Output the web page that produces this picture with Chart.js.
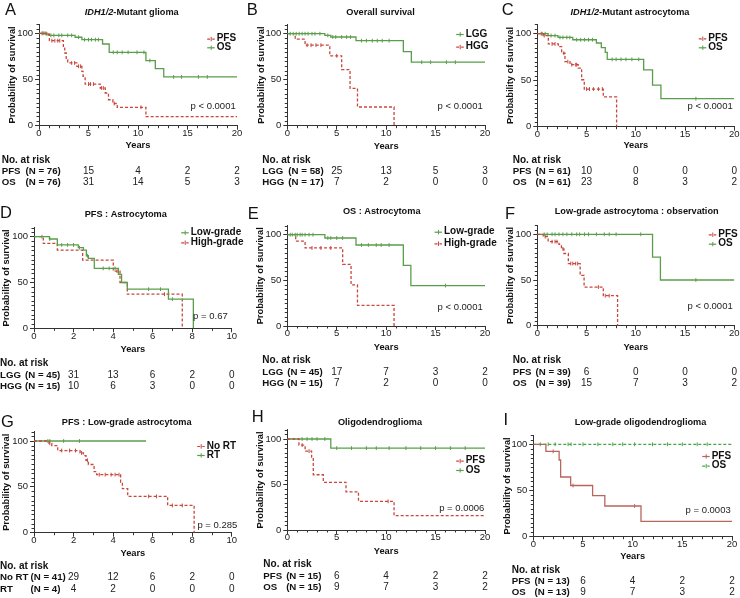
<!DOCTYPE html>
<html><head><meta charset="utf-8">
<script src="https://cdn.jsdelivr.net/npm/chart.js@4.4.1/dist/chart.umd.min.js"></script>
<style>
html,body{margin:0;padding:0;background:#fff;}
#wrap{position:relative;width:740px;height:598px;overflow:hidden;background:#fff;}
#wrap canvas{position:absolute;left:0;top:0;}
</style></head><body><div id="wrap"></div>
<script>
// ---------- tick values ----------
const yearTicks20 = [0, 5, 10, 15, 20];
const yearTicks10 = [0, 2, 4, 6, 8, 10];
const riskYears20 = [5, 10, 15, 20];
const riskYears10 = [2, 4, 6, 8, 10];
const survivalTicks = [0, 50, 100];

// ---------- A: IDH1/2-Mutant glioma ----------
const A_PFS_time = [0, 0.78, 1.05, 2.46, 2.6, 2.75, 2.9, 3.82, 4.33, 4.45, 4.66, 6.18, 6.69, 7.02, 7.46, 7.9, 10.8, 20];
const A_PFS_surv = [100, 99, 92, 84, 78.7, 71.4, 67.9, 64.3, 58.9, 53.5, 45.1, 40.8, 35.4, 28.1, 24, 19.9, 9.8, 9.8];
const A_PFS_censor = [0.4, 0.7, 1.3, 1.6, 1.9, 2.1, 3.3, 3.6, 4.0, 4.2, 5.0, 5.2, 5.5, 6.3, 6.5, 7.6, 10.3];
const A_OS_time = [0, 0.7, 1.0, 3.65, 4.33, 6.42, 7.09, 10.8, 11.75, 12.6, 20];
const A_OS_surv = [100, 99, 97.8, 95.7, 93.1, 88.4, 79.4, 70.5, 61.8, 52.8, 52.8];
const A_OS_censor = [0.3, 0.5, 0.8, 1.2, 1.5, 2.0, 2.3, 2.9, 3.3, 4.0, 4.6, 5.0, 5.3, 5.7, 6.0, 7.5, 7.9, 8.4, 9.0, 9.9, 10.6, 11.2, 13.6, 14.4, 16.1, 17.0];
const A_PFS_risk = [15, 4, 2, 2];
const A_OS_risk = [31, 14, 5, 3];

// ---------- B: Overall survival ----------
const B_LGG_time = [0, 3.8, 4.4, 6.95, 11.74, 12.55, 20];
const B_LGG_surv = [100, 98.2, 96.4, 92.4, 80.6, 69, 69];
const B_LGG_censor = [0.3, 0.6, 0.9, 1.2, 1.5, 1.8, 2.1, 2.5, 2.8, 3.3, 4.1, 4.6, 4.9, 5.5, 6.0, 6.4, 7.5, 8.0, 8.6, 9.1, 9.6, 10.3, 13.6, 14.5, 16.1, 17.0];
const B_HGG_time = [0, 0.8, 1.8, 4.3, 5.5, 6.35, 7.1, 10.8];
const B_HGG_surv = [100, 94, 87.5, 76, 61, 40.5, 20.3, 0];
const B_HGG_censor = [2.0, 2.4, 2.9, 3.4, 5.0];
const B_LGG_risk = [25, 13, 5, 3];
const B_HGG_risk = [7, 2, 0, 0];

// ---------- C: IDH1/2-Mutant astrocytoma ----------
const C_PFS_time = [0, 0.61, 1.12, 2.13, 2.47, 2.81, 3.32, 4.16, 4.5, 4.77, 6.7, 8.05];
const C_PFS_surv = [100, 98, 89, 86, 79, 70, 66.7, 63, 50.5, 40.5, 32, 0];
const C_PFS_censor = [0.4, 0.7, 1.5, 1.8, 2.7, 3.1, 3.5, 3.9, 4.0, 5.0, 5.3, 5.7, 6.2, 6.6];
const C_OS_time = [0, 1.1, 2.1, 3.6, 6.0, 6.5, 6.9, 7.1, 10.8, 11.7, 12.55, 20];
const C_OS_surv = [100, 98, 96, 93.5, 90, 85, 80, 72.4, 61, 44.8, 30.1, 30.1];
const C_OS_censor = [0.5, 0.8, 1.4, 1.8, 2.3, 2.6, 3.0, 3.3, 4.0, 4.4, 4.8, 5.2, 5.6, 7.6, 8.0, 8.5, 9.0, 9.6, 10.3, 16.1];
const C_PFS_risk = [10, 0, 0, 0];
const C_OS_risk = [23, 8, 3, 2];

// ---------- D: PFS : Astrocytoma ----------
const D_LGG_time = [0, 0.78, 1.18, 2.24, 2.5, 2.65, 2.75, 3.05, 4.27, 4.43, 4.72, 6.8, 8.06];
const D_LGG_surv = [100, 97.5, 91, 88, 85.4, 79.2, 76.3, 65.4, 58.8, 50, 42.7, 31.8, 0];
const D_LGG_censor = [0.4, 0.8, 1.4, 1.7, 2.0, 2.3, 2.7, 3.5, 3.8, 4.1, 5.8, 6.4, 7.0];
const D_HGG_time = [0, 0.47, 1.18, 2.46, 4.01, 4.35, 4.72, 7.5];
const D_HGG_surv = [100, 92.7, 85.4, 74.5, 62.4, 50, 37.2, 0];
const D_HGG_censor = [4.2, 6.6];
const D_LGG_risk = [31, 13, 6, 2, 0];
const D_HGG_risk = [10, 6, 3, 0, 0];

// ---------- E: OS : Astrocytoma ----------
const E_LGG_time = [0, 3.8, 6.95, 11.74, 12.5, 20];
const E_LGG_surv = [100, 96.4, 88.7, 66.5, 44.3, 44.3];
const E_LGG_censor = [0.3, 0.5, 0.8, 1.0, 1.3, 1.5, 1.8, 2.2, 2.6, 4.1, 4.4, 5.0, 5.6, 7.5, 8.2, 9.0, 9.5, 10.3, 16.0];
const E_HGG_time = [0, 0.85, 1.8, 5.6, 6.45, 7.1, 10.8];
const E_HGG_surv = [100, 93, 85.5, 67.5, 45, 22.5, 0];
const E_HGG_censor = [2.5, 3.4, 4.4];
const E_LGG_risk = [17, 7, 3, 2];
const E_HGG_risk = [7, 2, 0, 0];

// ---------- F: Low-grade astrocytoma : observation ----------
const F_PFS_time = [0, 0.6, 1.1, 2.2, 2.45, 2.7, 3.15, 4.35, 4.75, 6.7, 8.15];
const F_PFS_surv = [100, 97.4, 92, 89, 84, 79, 68, 55, 42.3, 32.8, 0];
const F_PFS_censor = [0.8, 1.5, 1.8, 2.0, 2.6, 3.4, 3.6, 3.9, 4.1, 6.2, 6.9, 7.3];
const F_OS_time = [0, 11.7, 12.5, 20];
const F_OS_surv = [100, 75, 50, 50];
const F_OS_censor = [0.7, 1.0, 1.5, 1.8, 2.2, 2.6, 3.0, 3.5, 4.0, 4.3, 4.8, 5.2, 6.0, 6.8, 7.3, 8.0, 10.5, 16.1];
const F_PFS_risk = [6, 0, 0, 0];
const F_OS_risk = [15, 7, 3, 2];

// ---------- G: PFS : Low-grade astrocytoma ----------
const G_NoRT_time = [0, 0.76, 0.9, 1.2, 2.33, 2.5, 2.63, 2.75, 3.04, 3.17, 4.38, 4.47, 4.74, 6.76, 8.1];
const G_NoRT_surv = [100, 97.5, 95, 89.6, 87, 84, 79, 74.4, 66.5, 63.3, 55, 48, 39.6, 29.7, 0];
const G_NoRT_censor = [0.8, 1.4, 1.8, 2.1, 2.4, 2.7, 3.3, 3.6, 3.9, 4.1, 4.3, 5.8, 6.2, 7.0, 7.5];
const G_RT_time = [0, 5.67];
const G_RT_surv = [100, 100];
const G_RT_censor = [0.7, 0.8, 1.5, 2.3];
const G_NoRT_risk = [29, 12, 6, 2, 0];
const G_RT_risk = [4, 2, 0, 0, 0];

// ---------- H: Oligodendroglioma ----------
const H_PFS_time = [0, 1.18, 1.8, 2.46, 2.63, 3.64, 5.94, 7.2, 10.8, 20];
const H_PFS_surv = [100, 93.3, 86.7, 80, 60.7, 52.4, 42, 31.5, 15.8, 15.8];
const H_PFS_censor = [1.5, 2.2, 10.2];
const H_OS_time = [0, 4.4, 20];
const H_OS_surv = [100, 90, 90];
const H_OS_censor = [1.5, 2.0, 2.5, 3.0, 3.8, 5.0, 6.5, 8.0, 9.0, 10.3, 12.0, 13.5, 15.0, 16.5, 18.0];
const H_PFS_risk = [6, 4, 2, 2];
const H_OS_risk = [9, 7, 3, 2];

// ---------- I: Low-grade oligodendroglioma ----------
const I_PFS_time = [0, 1.27, 2.6, 2.75, 3.76, 5.97, 7.2, 10.84, 20];
const I_PFS_surv = [100, 92.3, 83, 64.6, 55.4, 44.4, 33.2, 16.6, 16.6];
const I_PFS_censor = [2.0, 4.0, 10.2];
const I_OS_time = [0, 20];
const I_OS_surv = [100, 100];
const I_OS_censor = [0.7, 1.5, 2.2, 3.5, 3.8, 5.0, 6.5, 8.0, 9.0, 10.2, 12.0, 13.5, 15.0, 16.5, 17.5];
const I_PFS_risk = [6, 4, 2, 2];
const I_OS_risk = [9, 7, 3, 2];

// ---------- styling ----------
const FONT = "'Liberation Sans', Arial, Helvetica, sans-serif";
Chart.defaults.font.family = FONT;
Chart.defaults.color = '#222';
const RED = '#c8463c', GREEN = '#5a9e4b', ROSE = '#b8655c', GREEN2 = '#4aa34a';
const AXIS = '#333';

function stepAt(time, surv, t) {
  let v = surv[0];
  for (let i = 0; i < time.length; i++) if (time[i] <= t) v = surv[i];
  return v;
}
function S(time, surv, censor, color, dash) { return {time, surv, censor, color, dash}; }

const panels = [
  {letter:'A', lx:5, ly:15.1, title:[['IDH1/2', true], ['-Mutant glioma', false]], tx:131.7, ty:12,
   L:39, R:237, y100:33.3, y0:125.7, yTitleX:12.3, xTitleY:145.7, xmax:20, xticks:yearTicks20, minorX:1,
   series:[S(A_PFS_time, A_PFS_surv, A_PFS_censor, RED, true), S(A_OS_time, A_OS_surv, A_OS_censor, GREEN, false)],
   legend:[['PFS', 216.7, 38.7, 0], ['OS', 216.7, 47.3, 1]],
   p:['p < 0.0001', 235.7, 106],
   risk:{x1:1.7, gap:5, yh:160, years:riskYears20, rows:[['PFS', '(N = 76)', A_PFS_risk, 171], ['OS', '(N = 76)', A_OS_risk, 182.5]]}},
  {letter:'B', lx:246.7, ly:15.1, title:[['Overall survival', false]], tx:380.5, ty:12,
   L:287.3, R:485, y100:33.7, y0:125.7, yTitleX:261.7, xTitleY:146, xmax:20, xticks:yearTicks20, minorX:1,
   series:[S(B_LGG_time, B_LGG_surv, B_LGG_censor, GREEN, false), S(B_HGG_time, B_HGG_surv, B_HGG_censor, RED, true)],
   legend:[['LGG', 465.7, 34, 0], ['HGG', 465.7, 46.7, 1]],
   p:['p < 0.0001', 482.7, 106.7],
   risk:{x1:262.3, gap:4, yh:160, years:riskYears20, rows:[['LGG', '(N = 58)', B_LGG_risk, 171], ['HGG', '(N = 17)', B_HGG_risk, 182.5]]}},
  {letter:'C', lx:501.7, ly:15.1, title:[['IDH1/2', true], ['-Mutant astrocytoma', false]], tx:630, ty:12,
   L:537.3, R:734.3, y100:33.7, y0:126.7, yTitleX:510.7, xTitleY:145.7, xmax:20, xticks:yearTicks20, minorX:1,
   series:[S(C_PFS_time, C_PFS_surv, C_PFS_censor, RED, true), S(C_OS_time, C_OS_surv, C_OS_censor, GREEN, false)],
   legend:[['PFS', 708.3, 38.3, 0], ['OS', 708.3, 47.3, 1]],
   p:['p < 0.0001', 732.7, 106],
   risk:{x1:512.7, gap:4, yh:160, years:riskYears20, rows:[['PFS', '(N = 61)', C_PFS_risk, 171], ['OS', '(N = 61)', C_OS_risk, 182.5]]}},
  {letter:'D', lx:0, ly:217.5, title:[['PFS : Astrocytoma', false]], tx:125.8, ty:214,
   L:34, R:231.7, y100:236.7, y0:328.3, yTitleX:6, xTitleY:349.3, xmax:10, xticks:yearTicks10, minorX:1,
   series:[S(D_LGG_time, D_LGG_surv, D_LGG_censor, GREEN, false), S(D_HGG_time, D_HGG_surv, D_HGG_censor, RED, true)],
   legend:[['Low-grade', 190.7, 232.3, 0], ['High-grade', 190.7, 242.3, 1]],
   p:['p = 0.67', 227.7, 316.7],
   risk:{x1:0, gap:3, yh:363, years:riskYears10, rows:[['LGG', '(N = 45)', D_LGG_risk, 375], ['HGG', '(N = 15)', D_HGG_risk, 386]]}},
  {letter:'E', lx:247.7, ly:218.5, title:[['OS : Astrocytoma', false]], tx:381.7, ty:211.7,
   L:287.3, R:485, y100:234.7, y0:326, yTitleX:260.7, xTitleY:347.3, xmax:20, xticks:yearTicks20, minorX:1,
   series:[S(E_LGG_time, E_LGG_surv, E_LGG_censor, GREEN, false), S(E_HGG_time, E_HGG_surv, E_HGG_censor, RED, true)],
   legend:[['Low-grade', 444, 231.7, 0], ['High-grade', 444, 243.3, 1]],
   p:['p < 0.0001', 482.7, 307.3],
   risk:{x1:262.3, gap:3, yh:360, years:riskYears20, rows:[['LGG', '(N = 45)', E_LGG_risk, 372], ['HGG', '(N = 15)', E_HGG_risk, 383.5]]}},
  {letter:'F', lx:505, ly:218.5, title:[['Low-grade astrocytoma : observation', false]], tx:636.7, ty:211.7,
   L:537.3, R:734.3, y100:234.3, y0:325.7, yTitleX:510.7, xTitleY:347.3, xmax:20, xticks:yearTicks20, minorX:1,
   series:[S(F_PFS_time, F_PFS_surv, F_PFS_censor, RED, true), S(F_OS_time, F_OS_surv, F_OS_censor, GREEN, false)],
   legend:[['PFS', 718.3, 234.3, 0], ['OS', 718.3, 243.7, 1]],
   p:['p < 0.0001', 732.7, 306],
   risk:{x1:512.7, gap:4, yh:360, years:riskYears20, rows:[['PFS', '(N = 39)', F_PFS_risk, 372], ['OS', '(N = 39)', F_OS_risk, 383.5]]}},
  {letter:'G', lx:1, ly:426.8, title:[['PFS : Low-grade astrocytoma', false]], tx:126.7, ty:422,
   L:34, R:231.7, y100:441, y0:532.7, yTitleX:6, xTitleY:553.3, xmax:10, xticks:yearTicks10, minorX:1,
   series:[S(G_NoRT_time, G_NoRT_surv, G_NoRT_censor, RED, true), S(G_RT_time, G_RT_surv, G_RT_censor, GREEN, false)],
   legend:[['No RT', 206.7, 446, 0], ['RT', 206.7, 455, 1]],
   p:['p = 0.285', 237.3, 525],
   risk:{x1:0, gap:2, yh:566, years:riskYears10, rows:[['No RT', '(N = 41)', G_NoRT_risk, 577], ['RT', '(N = 4)', G_RT_risk, 589]]}},
  {letter:'H', lx:251.7, ly:421.8, title:[['Oligodendroglioma', false]], tx:380, ty:422,
   L:287.3, R:485, y100:439, y0:530, yTitleX:260.7, xTitleY:551.7, xmax:20, xticks:yearTicks20, minorX:1,
   series:[S(H_PFS_time, H_PFS_surv, H_PFS_censor, RED, true), S(H_OS_time, H_OS_surv, H_OS_censor, GREEN, false)],
   legend:[['PFS', 465.7, 460.7, 0], ['OS', 465.7, 470, 1]],
   p:['p = 0.0006', 484.3, 508.3],
   risk:{x1:263.3, gap:4, yh:564, years:riskYears20, rows:[['PFS', '(N = 15)', H_PFS_risk, 576], ['OS', '(N = 15)', H_OS_risk, 587]]}},
  {letter:'I', lx:503.5, ly:425.1, title:[['Low-grade oligodendroglioma', false]], tx:640.5, ty:422,
   L:533.3, R:732, y100:444.3, y0:536.7, yTitleX:507.7, xTitleY:556.7, xmax:20, xticks:yearTicks20, minorX:1,
   series:[S(I_PFS_time, I_PFS_surv, I_PFS_censor, ROSE, false), S(I_OS_time, I_OS_surv, I_OS_censor, GREEN2, true)],
   legend:[['PFS', 711.7, 456, 0], ['OS', 711.7, 465.7, 1]],
   p:['p = 0.0003', 730.7, 510.7],
   risk:{x1:511.7, gap:4, yh:570, years:riskYears20, rows:[['PFS', '(N = 13)', I_PFS_risk, 581], ['OS', '(N = 13)', I_OS_risk, 592]]}}
];

const wrap = document.getElementById('wrap');
const YT = 9.3, YTLH = YT * 1.2;
const RF = 'bold 9.7px ' + FONT;

function txt(ctx, s, x, y, font, align, color) {
  ctx.font = font; ctx.textAlign = align || 'left'; ctx.textBaseline = 'middle';
  ctx.fillStyle = color || '#111'; ctx.fillText(s, x, y);
}

function makePanel(p) {
  const canvas = document.createElement('canvas');
  canvas.width = 740; canvas.height = 598;
  canvas.style.width = '740px'; canvas.style.height = '598px';
  wrap.appendChild(canvas);
  const T = p.y100 - (p.y0 - p.y100) * 0.1;
  const B = p.y0;
  const axW = p.L - (p.yTitleX - YTLH / 2);
  const xH = p.xTitleY + YTLH / 2 - B;

  const datasets = [];
  p.series.forEach(s => {
    datasets.push({type: 'line', data: s.time.map((t, i) => ({x: t, y: s.surv[i]})), stepped: true,
      borderColor: s.color, borderWidth: 1.3, borderDash: s.dash ? [3, 2] : [], pointRadius: 0, fill: false, tension: 0, order: 2});
    datasets.push({type: 'scatter', data: s.censor.map(t => ({x: t, y: stepAt(s.time, s.surv, t)})),
      pointStyle: 'line', pointRotation: 90, pointRadius: 1.9, pointBorderColor: s.color, pointBorderWidth: 1,
      pointBackgroundColor: s.color, borderColor: s.color, order: 1});
  });

  const decor = {
    id: 'decor' + p.letter,
    afterDraw(chart) {
      const ctx = chart.ctx, ca = chart.chartArea, xs = chart.scales.x, ys = chart.scales.y;
      ctx.save();
      // minor ticks
      ctx.strokeStyle = AXIS; ctx.lineWidth = 1; ctx.setLineDash([]);
      ctx.beginPath();
      for (let i = 0; i <= p.xmax / p.minorX; i++) {
        const v = i * p.minorX;
        if (p.xticks.includes(v)) continue;
        const px = Math.round(xs.getPixelForValue(v)) + 0.5;
        ctx.moveTo(px, ca.bottom); ctx.lineTo(px, ca.bottom + 2.5);
      }
      for (let v = 5; v <= 110; v += 5) {
        if (survivalTicks.includes(v)) continue;
        const py = Math.round(ys.getPixelForValue(v)) + 0.5;
        ctx.moveTo(ca.left, py); ctx.lineTo(ca.left - 2.5, py);
      }
      ctx.stroke();
      // panel letter
      ctx.font = '16.5px ' + FONT; ctx.textAlign = 'left'; ctx.textBaseline = 'alphabetic'; ctx.fillStyle = '#111';
      ctx.fillText(p.letter, p.lx, p.ly);
      // title
      const fN = 'bold 9.2px ' + FONT, fI = 'italic bold 9.2px ' + FONT;
      let total = 0;
      p.title.forEach(([s, it]) => { ctx.font = it ? fI : fN; total += ctx.measureText(s).width; });
      let x = p.tx - total / 2;
      p.title.forEach(([s, it]) => { const f = it ? fI : fN; txt(ctx, s, x, p.ty, f, 'left'); ctx.font = f; x += ctx.measureText(s).width; });
      // legend
      p.legend.forEach(([s, lx, ly, si]) => {
        const ser = p.series[si];
        ctx.strokeStyle = ser.color; ctx.lineWidth = 1.2;
        ctx.setLineDash(ser.dash ? [3, 2] : []);
        ctx.beginPath(); ctx.moveTo(lx - 9.5, ly + 0.5); ctx.lineTo(lx - 2, ly + 0.5); ctx.stroke();
        ctx.setLineDash([]); ctx.lineWidth = 1;
        ctx.beginPath(); ctx.moveTo(lx - 5.5, ly - 1.8); ctx.lineTo(lx - 5.5, ly + 2.6); ctx.stroke();
        txt(ctx, s, lx, ly, 'bold 10px ' + FONT, 'left', '#111');
      });
      // p value
      txt(ctx, p.p[0], p.p[1], p.p[2], '9.5px ' + FONT, 'right', '#222');
      // risk table
      const r = p.risk;
      ctx.font = RF;
      const nameW = Math.max(...r.rows.map(row => ctx.measureText(row[0]).width));
      const x2 = r.x1 + nameW + r.gap;
      txt(ctx, 'No. at risk', r.x1, r.yh, 'bold 10px ' + FONT, 'left', '#111');
      r.rows.forEach(([name, n, vals, ry]) => {
        txt(ctx, name, r.x1, ry, RF, 'left', '#111');
        txt(ctx, n, x2, ry, RF, 'left', '#111');
        vals.forEach((v, i) => txt(ctx, String(v), xs.getPixelForValue(r.years[i]), ry, '10px ' + FONT, 'center', '#222'));
      });
      ctx.restore();
    }
  };

  new Chart(canvas, {
    data: {datasets},
    options: {
      responsive: false, animation: false, events: [], devicePixelRatio: 1,
      layout: {padding: {left: p.L - axW, top: T, right: 740 - p.R, bottom: 598 - B - xH}},
      plugins: {legend: {display: false}, tooltip: {enabled: false}, title: {display: false}},
      scales: {
        x: {type: 'linear', min: 0, max: p.xmax,
          afterBuildTicks: s => { s.ticks = p.xticks.map(v => ({value: v})); },
          afterFit: s => { s.height = xH; },
          ticks: {font: {size: 9.5}, color: '#222', padding: -2, maxRotation: 0, autoSkip: false},
          grid: {display: true, drawOnChartArea: false, drawTicks: true, tickLength: 4, color: AXIS, lineWidth: 1},
          border: {display: true, color: AXIS, width: 1},
          title: {display: true, text: 'Years', font: {size: YT, weight: 'bold', lineHeight: 1.2}, color: '#111', padding: 0}},
        y: {type: 'linear', min: 0, max: 110,
          afterBuildTicks: s => { s.ticks = survivalTicks.map(v => ({value: v})); },
          afterFit: s => { s.width = axW; },
          ticks: {font: {size: 9.5}, color: '#222', padding: 2, autoSkip: false},
          grid: {display: true, drawOnChartArea: false, drawTicks: true, tickLength: 4, color: AXIS, lineWidth: 1},
          border: {display: true, color: AXIS, width: 1},
          title: {display: true, text: 'Probability of survival', font: {size: YT, weight: 'bold', lineHeight: 1.2}, color: '#111', padding: 0}}
      }
    },
    plugins: [decor]
  });
}

panels.forEach(makePanel);
</script>
</body></html>
